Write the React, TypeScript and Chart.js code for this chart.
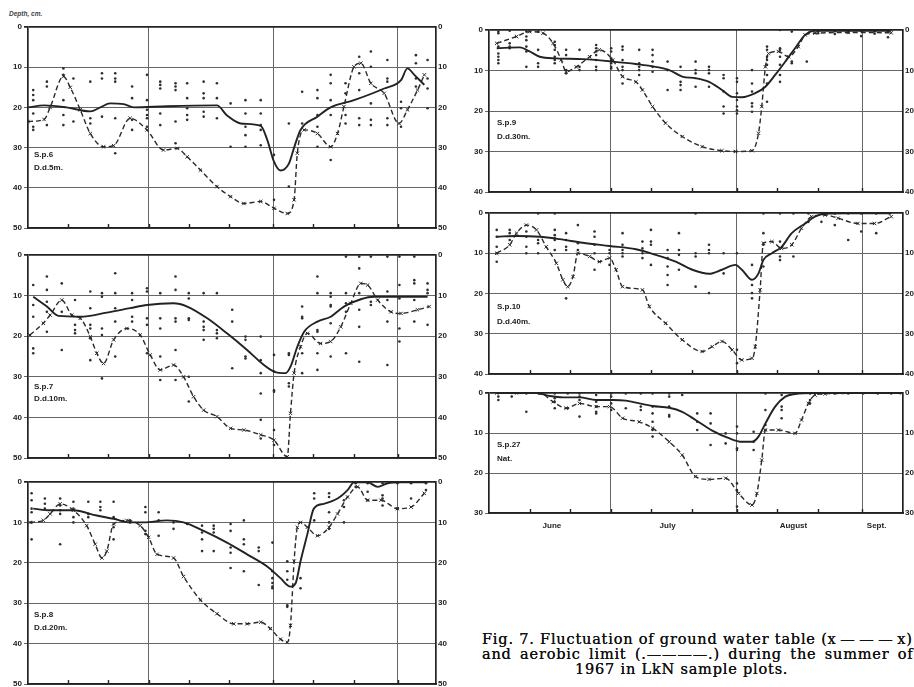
import React, { useEffect, useRef } from "react";
import { Chart, registerables } from "chart.js";

Chart.register(...registerables);

type P = [number, number];

// ---------- shared axis values (days counted from 1 June 1967) ----------
const MONTH_LINES = [30, 61, 92];
const TEN_DAY_TICKS = [10, 20, 30, 40, 50, 61, 71, 81, 92];
const MONTH_LABELS = ["June", "July", "August", "Sept."];
const MONTH_LABEL_DAYS = [15.5, 44, 75, 95.5];

// ---------- S.p.6  D.d.5m. ----------
const SP6_AEROBIC: P[] = [[0,20],[4,19.5],[9.6,20],[15.5,21],[18,20],[20.4,19],[23.8,19.2],[26.3,20],[34.6,19.7],[47,19.5],[49.5,22],[52.9,24],[57.9,24.6],[59.5,28],[61.2,33.5],[62.8,35.7],[64.9,34],[66.2,30],[67.8,25.6],[72,22.3],[75.3,20],[81.1,18.2],[88.6,15.3],[92.8,13.2],[94.4,10.3],[96.1,11.9],[98.6,14.4]];
const SP6_WATER: P[] = [[0,23.5],[4,23],[5.5,20],[8.8,12.3],[10.5,15],[13,20.6],[15.5,26.5],[18.8,29.8],[21.3,29.5],[25.4,22.7],[29.6,25.6],[33.7,30.6],[37.1,30.2],[39.6,32.3],[42.9,35.6],[47,39.7],[50.4,42.2],[53.7,43.9],[57.9,43.4],[61.2,45.1],[64.5,46.4],[66.2,43],[67,31.4],[68.7,25.6],[72,26.5],[75.3,29.8],[77,26.5],[78.6,19.8],[81.1,9.9],[82.8,9],[85.3,14],[88.6,16.5],[92.3,24],[94.4,20.6],[96.9,15.7],[98.6,11.9]];
const SP6_DOT_DAYS = [1.3,4.7,8.8,11.3,15.5,18.4,21.7,25.9,29.6,32.9,36.7,39.6,43.7,47,50.4,54.1,57.9,61.2,64.9,68.2,72,75.3,79,82.4,85.3,89.4,92.8,96.5,99.4];
const SP6_DOT_DEPTHS = [[15.7,16.9,18.2,21.5,24.8,25.6],[13.6,14.8,24.4],[10.3,11.9,18.2,21.9,24.4],[12.8,23.5],[13.6,22.7,24],[11.5,12.8,22.3],[11.5,12.8,13.6,22.7,31.4],[14.8,17.7,23.1,25.6],[11.9,18.2,20.6,21.9,22.7,24.8],[13.6,14.4,15.3,21.5,24.4],[14,14.8,15.7,23.5,28.9],[14,17.7,20.2,21.9,23.1],[13.6,16.5,17.7,21.1,22.3],[14,17.7,22.7],[19,29.8],[18.2,21.5,24.8,26.9,29.8],[18.2,21.5,24.4,25.6,29.4],[31.8,43],[24,39.7],[16.1,24],[15.7,17.7,21.9,24.8,29.8],[11.9,14,18.2,21.9,33.1],[14,16.5,21.9,24],[7.4,11.5,15.7,22.7,24.4],[6.1,9.9,19,23.1,24.4],[8.2,12.8,13.6,22.7,24.4],[18.6,20.2,24.8],[7,9,12.8,14.8],[8.2,12.8,15.3,20.2]];

// ---------- S.p.7  D.d.10m. ----------
const SP7_AEROBIC: P[] = [[1.3,10.3],[4.7,12.7],[7.6,15],[13,15.2],[19.6,14.2],[25.4,13.1],[29.6,12.3],[36.2,11.9],[39.6,12.7],[44.6,15.6],[49.5,19.3],[54.5,23.4],[58.7,27.1],[61.2,28.7],[64.1,29.1],[65.3,27.5],[67,22.6],[68.7,18.9],[72,16.4],[75.3,15.2],[78.6,12.7],[82.8,10.9],[86.1,10.3],[92.8,10.3],[99.4,10.3]];
const SP7_WATER: P[] = [[0.5,19.7],[3.8,16.8],[5.5,14.8],[8.4,11.1],[10.9,14.8],[13,15.6],[15.5,20.1],[17.1,24.2],[18.8,26.7],[21.3,20.9],[24.6,18.1],[27.9,19.7],[30.4,24.6],[32.9,28.3],[36.2,27.1],[38.7,30],[41.2,34.9],[43.7,38.2],[47,39.8],[50.4,42.7],[53.7,43.1],[57.9,44.3],[61.2,45.6],[64.5,49.7],[65.3,39],[66.2,29.1],[67.8,22.6],[69.5,19.3],[72.8,21.8],[75.3,21.3],[77.8,17.7],[80.3,11.9],[82.8,7],[84.5,7.4],[87,11.1],[90.3,14],[92.8,14.4],[96.9,13.5],[99.8,12.7]];
const SP7_DOT_DAYS = [1.3,4.7,8.4,11.7,15.5,18.4,21.7,25.9,29.6,32.9,36.7,40,43.7,47,50.8,54.1,57.9,61.2,64.9,68.2,72,75.3,79.1,82.4,85.3,89.4,92.4,96.1,99.4];
const SP7_DOT_DEPTHS = [[7.4,12.3,15.2,23,24.2],[5.3,8.6,11.5,14,18.9],[7,14,23.4],[11.1,17.2,18.5,19.3],[9,13.1,17.2,18.1,20.5,25.9],[9.4,10.3,18.1,19.7,30.4],[4.5,9.4,13.1,16.4,25],[9.4,11.1,15.2,16.4],[8.2,9,15.6,17.2,24.2],[9.4,15.6,18.1,25,30.8],[5.3,8.6,15.6,16.4,23.4,30.8],[9.4,10.7,15.6,16,30,36.1],[9.4,16.4,17.7,18.5,20.9],[9.4,18.5,19.3,20.5],[13.5,16.4,27.9],[20.1,20.9,25,25.5],[20.1,25.9,29.1,34.1,40.6,45.2],[24.6,28.7,33.3,33.7,43.1,46.8],[24.2,24.6,31.6,32.4],[12.7,15.2,15.6,24.2,29.1],[5.3,9.4,18.5,18.9,24.2,28.3],[9.4,10.3,12.3,12.7,16.8,25],[0.4,9.4,11.9,14,24.2],[0.4,3.3,9.4,13.5,17.7,26.3],[0.4,11.5,12.3],[0.4,9,11.1,16.4,27.1],[0.4,7.4,10.7,18.1,21.3],[0.4,6.2,7,11.1,16.4],[7,8.6,9.4,17.2]];

// ---------- S.p.8  D.d.20m. ----------
const SP8_AEROBIC: P[] = [[1.3,6.6],[5.5,7],[11.3,7],[17.1,8.3],[21.3,9.1],[25.4,10],[28.8,10],[34.6,9.5],[38.7,10],[43.7,12.1],[49.5,15],[54.5,17.9],[59.5,20.9],[62.8,23.8],[65.3,25.9],[66.6,25],[67.8,19.6],[69.5,12.9],[71.1,6.6],[73.6,5.4],[77,4.1],[79.5,2],[81.1,0.1],[84.5,0.1],[87,1.2],[89.5,0.3],[92.8,0.1],[99.4,0.1]];
const SP8_WATER: P[] = [[0.5,10],[3.8,9.5],[5.5,7.9],[8,5.4],[11.3,7],[14.6,10.8],[16.7,15.4],[18.4,18.8],[19.6,17.1],[21.3,10.4],[24.6,9.5],[27.9,10.8],[30,13.7],[32.1,17.9],[36.2,18.8],[38.7,23.4],[42.9,29.2],[47,32.6],[51.2,35.1],[54.5,35.1],[57.9,34.7],[60.3,36.3],[62.8,38.9],[64.5,39.7],[65.3,35.5],[66.2,19.6],[67,11.2],[67.8,10],[69.5,11.2],[72,13.3],[74.9,11.2],[77,7.9],[79.5,3.7],[82,1.2],[84.5,4.5],[87.8,4.5],[91.9,6.6],[95.3,6.2],[98.6,2.8]];
const SP8_DOT_DAYS = [0.9,4.2,8,11.3,15,18,21.3,25.4,29.2,32.5,36.2,39.6,43.3,46.2,50.4,53.7,57.4,60.8,64.5,67.8,71.2,74.9,78.6,81.5,84.5,88.2,91.9,95.3,99];
const SP8_DOT_DEPTHS = [[2.8,4.5,6.6,7.5,10,14.2],[4.1,5.4,6.6],[4.1,5.8,7,7.9,15.4],[4.9,6.6,8.7,10],[4.9,7.9,8.7],[4.9,6.2,7],[4.9,8.7,11.2,14.2],[9.5,10],[6.2,7.5,12.1,12.9],[7.5,9.5,13.3],[10,11.6],[10.4],[10.8,12.5,14.2,17.1],[10.8,11.6,12.5,17.1],[10.4,12.1,16.2,17.5,21.3],[9.5,14.2,15.4,22.1],[16.2,17.1,25.5],[15,22.1,23.8,25,25.9,26.3],[19.6,22.1,24.2,30.5,30.9],[23.8,26.3],[2.8,4.1,9.5],[2.8,3.7,7.5,10,11.6],[4.5,6.2,10],[0.3,1.2],[0.3,2.4,4.5],[0.3,3.3,4.1,5.8],[0.3,6.6],[0.3,4.1],[0.3,2]];

// ---------- S.p.9  D.d.30m. ----------
const SP9_AEROBIC: P[] = [[1.9,4.5],[7.6,4.3],[10,5.3],[12.5,6.6],[16.6,7],[23.1,7.2],[30.5,7.8],[36.2,8.4],[41.1,9.1],[44.4,9.9],[47.6,11.5],[50.9,11.9],[54.2,12.8],[57.4,14.8],[59.9,16.5],[62.3,16.6],[65.6,15.6],[68.1,14],[70.5,11.1],[73,7.8],[75.4,4.5],[77.9,1.2],[80.3,0.2],[88.5,0.2],[99.1,0.2]];
const SP9_WATER: P[] = [[1.9,3.3],[6.8,1.6],[10,0.4],[13.3,0.8],[15.8,3.3],[17.8,7.4],[19,10.3],[21.5,9.1],[24.8,6.6],[27.2,4.9],[30.5,7.4],[32.9,11.5],[36.2,12.8],[37.8,14.8],[40.3,18.9],[43.5,23],[47.6,26.3],[52.5,28.8],[57.4,29.8],[60.7,30],[64.8,29.8],[66.4,25.5],[67.2,18.9],[68.1,9.1],[68.9,5.8],[71.3,5.3],[73.8,6.6],[76.2,4.1],[77.9,1.2],[80.3,0.8],[88.5,0.6],[99.1,0.7]];
const SP9_DOT_DAYS = [2.3,5.1,9.2,12.1,16.2,19,22.3,26.4,30.1,32.9,37,40.3,44,47.2,50.9,54.2,57.8,61.1,64.8,68.5,71.7,74.6,78.3,81.1,85.2,88.5,91.7,95,98.3];
const SP9_DOT_DEPTHS = [[0.4,0.8,4.1,5.8,6.6,7.4,8.2],[0.2,3.3,4.1,4.5],[0.4,1.6,2.5,4.1,5.3,9.1],[0.4,4.9,8.2,9.1],[2.9,3.7,4.9,6.6,7.4,8.2],[4.9,6.2,9.9,10.7],[4.9,9.1,9.9],[3.7,4.5,5.3,6.2,7.4,9.1,9.9],[4.5,5.3,7,7.4,8.2,9.1,9.5],[4.1,4.9,7.4,9.1,9.9,13.2],[4.9,8.2,9.1,9.9,11.1],[4.9,6.2,7.8,9.1,10.3],[7.8,9.9,14.8],[9.1,12.8,13.6,14.8],[7.8,9.9,10.7,14],[9.1,9.9,10.7,14],[11.1,11.9,15.2,18.9,20.6],[11.9,12.8,15.6,17.3,18.9,19.8,20.6],[9.9,13.2,15.2,18.1,18.9,20.2],[4.1,4.9,6.6,7.4,8.6,11.1,13.2,17.7],[0,4.5,4.9,6.6,8.6,11.1,12.8],[0.4,7.8,8.2],[7.8],[0.3,0.8],[0.3,1],[0.2,0.6],[0.2,1.5],[0.3,0.9],[0.3,1.8]];

// ---------- S.p.10  D.d.40m. ----------
const SP10_AEROBIC: P[] = [[1.9,5.9],[6.8,5.7],[12.5,5.9],[17.4,6.5],[23.1,7.4],[29.7,8.2],[36.2,9],[41.1,10.4],[46,12.1],[50.1,14.1],[54.2,15.1],[57.4,14.1],[60.7,12.9],[62.3,14.1],[64.8,16.6],[66.4,15],[67.6,11.7],[69.7,10],[72.1,8.4],[74.6,5],[77.9,2.6],[80.3,0.9],[82.8,0.2],[88.5,0.1],[99.1,0.1]];
const SP10_WATER: P[] = [[1.9,10],[5.1,7.9],[6.8,5],[9.2,3],[11.7,4.2],[14.1,8.4],[16.6,12.5],[18.2,16.6],[19.4,18.3],[20.7,15.8],[21.9,10],[24.8,10.8],[27.2,12.1],[29.7,11.2],[31.3,14.1],[32.9,18.3],[37.8,19.1],[39.5,23.2],[43.5,27.4],[47.6,31.5],[52.5,34.4],[55,33.2],[57.4,31.9],[59.9,34],[62.3,36.5],[64.8,36.1],[65.6,33.2],[66.8,19.1],[67.6,7.5],[69.7,7.1],[72.1,8.8],[74.6,7.9],[77,3.8],[79.5,0.9],[82.8,0.5],[86,1.3],[90.9,2.6],[95,2.6],[99.1,0.9]];
const SP10_DOT_DAYS = [1.9,5.1,9.2,12.1,16.2,19,21.9,26,29.7,32.9,37.8,39.9,44,46.8,50.9,54.2,57.8,61.1,64.8,67.6,71.7,75,78.7,81.9,85.2,88.5,91.7,95.4,98.7];
const SP10_DOT_DEPTHS = [[4.2,5.9,8.4,10,12.1],[4.2,5,6.7],[4.6,5.9,8.4,10],[0.1,6.7,7.5,10],[0.1,4.2,5.5,6.3,6.7,9.2],[5,6.7,8.4,9.2,21.2],[3,7.5,9.2],[4.6,5.9,7.9,10,14.1],[9.2,10,12.9],[5,7.9,9.2,10,10.8],[7.1,8.8,10,11.2],[4.2,7.1,7.9,12.9],[9.2,11.2,13.3,15.4,17.9],[5,9.2,10.4,14.1],[0.1,10,10.8,18.3],[7.9,9.2,10,19.9],[10,15],[10,34,37.3],[12.9,17.9,19.9,21.2],[0.1,5,7.9,13.3],[0.1,7.1,10.8,11.7],[0.1,10.8],[0.1,2.2],[0.1,2.2],[0.1,3],[0.1,6.7],[0.1,4.6],[0.1,5],[0.1]];

// ---------- S.p.27  Nat. ----------
const SP27_AEROBIC: P[] = [[1.9,0],[11.7,0],[15,0.75],[18.2,1.1],[22.3,1.1],[26.4,1.75],[30.5,1.75],[33.7,1.9],[36.2,2.4],[40.3,3.25],[44.4,3.7],[47.6,4.7],[50.9,6.75],[55,9.4],[59.1,11.3],[62.3,12.2],[64.8,12.2],[66.4,10.9],[68.1,7.6],[70.5,3.4],[73,0.9],[75.4,0.25],[80.3,0],[101.6,0]];
const SP27_WATER: P[] = [[1.9,0],[6.8,0],[12.5,0],[15.8,2.2],[19,3.8],[22.3,2.6],[26.4,3.4],[29.7,3.4],[32.9,6.3],[37,7.2],[40.3,8.8],[44.4,12.2],[47.6,15.5],[50.9,20.9],[54.2,21.6],[58.3,21.3],[61.5,25.1],[64.8,28],[66,25.1],[67.2,16.75],[68.1,9.25],[71.3,9.25],[75.4,10.1],[77,6.75],[78.7,2.6],[80.3,0.5],[82.8,0.2],[101.6,0]];
const SP27_DOT_DAYS = [2.3,5.6,9.2,12.5,16.2,19.4,22.3,26.4,30.1,33.7,37.4,40.3,44.4,47.6,51.3,54.6,58.3,61.1,65.2,68.1,72.1,75.4,79.1,81.9,85.2,88.5,92.2,95.8,99.1];
const SP27_DOT_DEPTHS = [[0,0.9,1.75],[0,0.9],[0.1,4.7],[0.1],[0.1,1.3,2.2,3.8],[0.1,3.8],[0.1,0.9,1.75,5.9],[0.5,2.2,3.4,4.7,5.1],[0.1,0.9,2.6,4.25],[0.1,3.8],[0.1,3.4,4.25],[0.1,3.4,5.1,7.2,9.25,10.9],[0.1,0.9,3.4,5.5,5.9],[0.5],[5.1,7.2,9.25],[5.1,7.6,13],[10.1,12.6],[8.4,10.1,13.8,14.25,22.6,24.25,28.4],[9.7,12.2,14.25],[0.1,4.25,8,9.25],[0.5,3.4,4.25,6.3],[0.1],[0.1,1.75,2.6],[0.1],[0.1],[0.1],[0.1],[0.1],[0.1]];

// ---------- layout (pixels) ----------
interface PanelCfg {
  key: string;
  label1: string;
  label2: string;
  aerobic: P[];
  water: P[];
  dotDays: number[];
  dotDepths: number[][];
  maxDepth: number;
  xMax: number;
  left: number;
  top: number;
  width: number;
  height: number;
  leftAxisW: number;
  rightAxisW: number;
  bottomAxisH: number;
  months?: boolean;
  labelX: number;
  labelY: number;
  labelGap: number;
}

const LEFT = { left: 0, width: 450, leftAxisW: 28, rightAxisW: 14, xMax: 101.5, labelX: 34 };
const RIGHT = { left: 460, width: 460, leftAxisW: 29, rightAxisW: 17, xMax: 102, labelX: 497 };

const PANELS: PanelCfg[] = [
  { key: "p6", label1: "S.p.6", label2: "D.d.5m.", aerobic: SP6_AEROBIC, water: SP6_WATER, dotDays: SP6_DOT_DAYS, dotDepths: SP6_DOT_DEPTHS, maxDepth: 50, ...LEFT, top: 19, height: 219, bottomAxisH: 10, labelY: 150, labelGap: 13 },
  { key: "p7", label1: "S.p.7", label2: "D.d.10m.", aerobic: SP7_AEROBIC, water: SP7_WATER, dotDays: SP7_DOT_DAYS, dotDepths: SP7_DOT_DEPTHS, maxDepth: 50, ...LEFT, top: 247, height: 221, bottomAxisH: 10, labelY: 382, labelGap: 12 },
  { key: "p8", label1: "S.p.8", label2: "D.d.20m.", aerobic: SP8_AEROBIC, water: SP8_WATER, dotDays: SP8_DOT_DAYS, dotDepths: SP8_DOT_DEPTHS, maxDepth: 50, ...LEFT, top: 474, height: 222, bottomAxisH: 12, labelY: 610, labelGap: 13 },
  { key: "p9", label1: "S.p.9", label2: "D.d.30m.", aerobic: SP9_AEROBIC, water: SP9_WATER, dotDays: SP9_DOT_DAYS, dotDepths: SP9_DOT_DEPTHS, maxDepth: 40, ...RIGHT, top: 22, height: 180, bottomAxisH: 10, labelY: 118, labelGap: 14 },
  { key: "p10", label1: "S.p.10", label2: "D.d.40m.", aerobic: SP10_AEROBIC, water: SP10_WATER, dotDays: SP10_DOT_DAYS, dotDepths: SP10_DOT_DEPTHS, maxDepth: 40, ...RIGHT, top: 205, height: 179, bottomAxisH: 10, labelY: 302, labelGap: 15 },
  { key: "p27", label1: "S.p.27", label2: "Nat.", aerobic: SP27_AEROBIC, water: SP27_WATER, dotDays: SP27_DOT_DAYS, dotDepths: SP27_DOT_DEPTHS, maxDepth: 30, ...RIGHT, top: 385, height: 150, bottomAxisH: 0, months: true, labelY: 440, labelGap: 14 },
];

const INK = "#222";
const GRID = "#666";
const TICK_FONT = { family: "'Liberation Sans', Arial, sans-serif", size: 8, weight: "bold" as const };

const innerTicksPlugin = {
  id: "innerTicks",
  afterDatasetsDraw(chart: any) {
    const x = chart.scales.x;
    const { bottom } = chart.chartArea;
    const ctx = chart.ctx;
    ctx.save();
    ctx.strokeStyle = INK;
    ctx.lineWidth = 1.4;
    TEN_DAY_TICKS.forEach((d) => {
      const px = Math.round(x.getPixelForValue(d)) + 0.5;
      ctx.beginPath();
      ctx.moveTo(px, bottom);
      ctx.lineTo(px, bottom - 4);
      ctx.stroke();
    });
    ctx.restore();
  },
};

function Panel({ cfg }: { cfg: PanelCfg }) {
  const ref = useRef<HTMLCanvasElement | null>(null);
  useEffect(() => {
    if (!ref.current) return;
    const dots: { x: number; y: number }[] = [];
    cfg.dotDays.forEach((d, i) => {
      (cfg.dotDepths[i] || []).forEach((v) => dots.push({ x: d, y: v }));
    });
    const scales: any = {
      x: {
        type: "linear",
        min: 0,
        max: cfg.xMax,
        afterBuildTicks: (s: any) => {
          s.ticks = MONTH_LINES.map((v) => ({ value: v }));
        },
        afterFit: (s: any) => {
          s.height = cfg.bottomAxisH;
        },
        ticks: { display: false },
        grid: { color: GRID, lineWidth: 1, drawTicks: false },
        border: { display: true, color: INK, width: 1.7 },
      },
      y: {
        type: "linear",
        position: "left",
        min: 0,
        max: cfg.maxDepth,
        reverse: true,
        afterFit: (s: any) => {
          s.width = cfg.leftAxisW;
        },
        ticks: { stepSize: 10, font: TICK_FONT, color: INK, padding: 2 },
        grid: {
          color: (c: any) => (c.tick && c.tick.value === 0 ? INK : GRID),
          lineWidth: (c: any) => (c.tick && c.tick.value === 0 ? 1.7 : 1),
          tickLength: 4,
          drawTicks: true,
        },
        border: { display: true, color: INK, width: 1.7 },
      },
      y2: {
        type: "linear",
        position: "right",
        min: 0,
        max: cfg.maxDepth,
        reverse: true,
        afterFit: (s: any) => {
          s.width = cfg.rightAxisW;
        },
        ticks: { stepSize: 10, font: TICK_FONT, color: INK, padding: 2 },
        grid: { display: false, drawTicks: false },
        border: { display: true, color: INK, width: 1.7 },
      },
    };
    if (cfg.months) {
      scales.x2 = {
        type: "linear",
        position: "bottom",
        weight: 1,
        min: 0,
        max: cfg.xMax,
        afterBuildTicks: (s: any) => {
          s.ticks = MONTH_LABEL_DAYS.map((v) => ({ value: v }));
        },
        afterFit: (s: any) => {
          s.height = 22;
        },
        ticks: {
          callback: (_v: any, i: number) => MONTH_LABELS[i],
          font: TICK_FONT,
          color: INK,
          padding: 8,
          maxRotation: 0,
          autoSkip: false,
        },
        grid: { display: false, drawTicks: false },
        border: { display: false },
      };
    }
    const chart = new Chart(ref.current, {
      type: "line",
      data: {
        datasets: [
          {
            label: "aerobic limit",
            data: cfg.aerobic.map(([x, y]) => ({ x, y })),
            borderColor: INK,
            borderWidth: 1.9,
            pointRadius: 0,
            cubicInterpolationMode: "monotone",
            fill: false,
            xAxisID: "x",
            yAxisID: "y",
          },
          {
            label: "ground water table",
            data: cfg.water.map(([x, y]) => ({ x, y })),
            borderColor: "#2a2a2a",
            borderWidth: 1.4,
            borderDash: [5, 3],
            pointStyle: "crossRot",
            pointRadius: 2.4,
            pointBorderWidth: 1,
            pointBorderColor: "#2a2a2a",
            cubicInterpolationMode: "monotone",
            fill: false,
            xAxisID: "x",
            yAxisID: "y",
          },
          {
            type: "scatter",
            label: "observations",
            data: dots,
            showLine: false,
            pointRadius: 1.3,
            pointBorderWidth: 0,
            backgroundColor: "#2e2e2e",
            xAxisID: "x",
            yAxisID: "y",
          } as any,
        ],
      },
      options: {
        responsive: false,
        maintainAspectRatio: false,
        animation: false,
        devicePixelRatio: 1,
        layout: { padding: { top: 8, left: 0, right: 0, bottom: 0 }, autoPadding: false },
        plugins: { legend: { display: false }, tooltip: { enabled: false } },
        scales,
      } as any,
      plugins: [innerTicksPlugin],
    });
    return () => chart.destroy();
  }, [cfg]);

  return (
    <>
      <canvas
        ref={ref}
        width={cfg.width}
        height={cfg.height}
        style={{ position: "absolute", left: cfg.left, top: cfg.top, width: cfg.width, height: cfg.height }}
      />
      <div style={{ ...labelStyle, left: cfg.labelX, top: cfg.labelY }}>{cfg.label1}</div>
      <div style={{ ...labelStyle, left: cfg.labelX, top: cfg.labelY + cfg.labelGap }}>{cfg.label2}</div>
    </>
  );
}

const labelStyle: React.CSSProperties = {
  position: "absolute",
  fontFamily: "'Liberation Sans', Arial, sans-serif",
  fontWeight: "bold",
  fontSize: 8,
  lineHeight: "10px",
  color: INK,
  whiteSpace: "nowrap",
};

const captionLine: React.CSSProperties = {
  whiteSpace: "nowrap",
  height: 15,
};

export default function App() {
  return (
    <div
      style={{
        position: "absolute",
        left: 0,
        top: 0,
        width: 914,
        height: 687,
        overflow: "hidden",
        background: "#fff",
      }}
    >
      <div
        style={{
          position: "absolute",
          left: 9,
          top: 10,
          fontFamily: "'Liberation Sans', Arial, sans-serif",
          fontWeight: "bold",
          fontStyle: "italic",
          fontSize: 6.5,
          color: "#444",
          whiteSpace: "nowrap",
        }}
      >
        Depth, cm.
      </div>
      {PANELS.map((p) => (
        <Panel key={p.key} cfg={p} />
      ))}
      <div
        style={{
          position: "absolute",
          left: 482,
          top: 632,
          width: 460,
          fontFamily: "'DejaVu Serif', serif",
          fontSize: 14.5,
          lineHeight: "15px",
          letterSpacing: 0.8,
          color: "#111",
          textShadow: "0 0 0.4px #111",
        }}
      >
        <div style={captionLine}>
          Fig. 7. Fluctuation of ground water table (x{"\u2009\u2014\u2009\u2014\u2009\u2014\u2009"}x)
        </div>
        <div style={{ ...captionLine, wordSpacing: 3 }}>
          and aerobic limit (.{"\u2014\u2014\u2014\u2014"}.) during the summer of
        </div>
        <div style={{ ...captionLine, paddingLeft: 93 }}>1967 in LkN sample plots.</div>
      </div>
    </div>
  );
}
